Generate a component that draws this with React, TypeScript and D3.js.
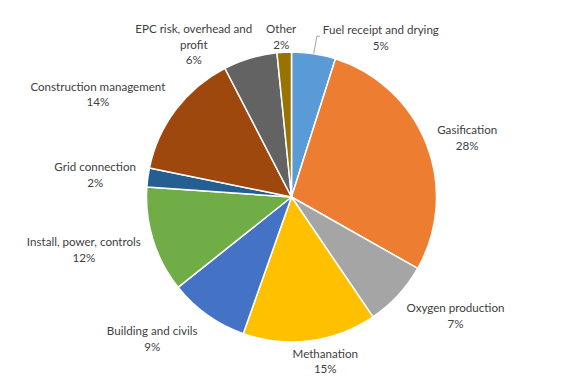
import React from "react";
import * as d3 from "d3";

const categories = [
  "Fuel receipt and drying",
  "Gasification",
  "Oxygen production",
  "Methanation",
  "Building and civils",
  "Install, power, controls",
  "Grid connection",
  "Construction management",
  "EPC risk, overhead and profit",
  "Other",
];
const shares = [4.9, 28.3, 7.3, 14.9, 8.9, 11.8, 2.1, 14.2, 6.0, 1.6];
const percentLabels = ["5%", "28%", "7%", "15%", "9%", "12%", "2%", "14%", "6%", "2%"];
const colors = [
  "#5B9BD5", "#ED7D31", "#A5A5A5", "#FFC000", "#4472C4",
  "#70AD47", "#255E91", "#9E480E", "#636363", "#997300",
];
// label text lines (wrapping as in the reference)
const labelLines = [
  ["Fuel receipt and drying"],
  ["Gasification"],
  ["Oxygen production"],
  ["Methanation"],
  ["Building and civils"],
  ["Install, power, controls"],
  ["Grid connection"],
  ["Construction management"],
  ["EPC risk, overhead and", "profit"],
  ["Other"],
];
// layout nudges for label placement (best-fit adjustments)
const labelNudge: [number, number][] = [
  [61, 23], [3.5, 7.7], [28, -7], [10, -20], [-32, -10],
  [-31, -3], [-13, 2], [-46, 8], [-45, 24], [-1, 24],
];

const W = 568, H = 392;
const cx = 291.5, cy = 197, R = 145, LR = 185, LH = 15.8;

export default function App() {
  const data = categories.map((c, i) => ({ c, v: shares[i], i }));
  const pie = d3.pie<any>().value((d) => d.v).sort(null).startAngle(0).endAngle(2 * Math.PI);
  const arcs = pie(data);
  const arc = d3.arc<any>().innerRadius(0).outerRadius(R);

  return (
    <svg width={W} height={H} style={{ position: "absolute", left: 0, top: 0, background: "#fff" }}
      fontFamily="Lato, 'Open Sans', sans-serif" fontSize={11.6}>
      <g transform={`translate(${cx},${cy})`}>
        {arcs.map((a, i) => (
          <path key={i} d={arc(a) as string} fill={colors[i]} stroke="#fff" strokeWidth={1.5} strokeLinejoin="round" />
        ))}
      </g>
      {arcs.map((a, i) => {
        const mid = (a.startAngle + a.endAngle) / 2;
        const lx = cx + LR * Math.sin(mid) + labelNudge[i][0];
        const lyc = cy - LR * Math.cos(mid) + labelNudge[i][1];
        const lines = [...labelLines[i], percentLabels[i]];
        const top = lyc - ((lines.length - 1) * LH) / 2;
        return (
          <text key={i} x={lx} y={top} textAnchor="middle" dominantBaseline="central" fill="#404040">
            {lines.map((t, k) => (
              <tspan key={k} x={lx} y={top + k * LH}>{t}</tspan>
            ))}
          </text>
        );
      })}
      {(() => {
        // leader line for the first slice
        const a = arcs[0];
        const mid = (a.startAngle + a.endAngle) / 2;
        const sx = cx + R * Math.sin(mid), sy = cy - R * Math.cos(mid);
        const lx = cx + LR * Math.sin(mid) + labelNudge[0][0];
        const lyc = cy - LR * Math.cos(mid) + labelNudge[0][1];
        const ex = lx - 61, ey = lyc - 1;
        return <polyline points={`${sx},${sy} ${ex - 3},${ey} ${ex},${ey}`} fill="none" stroke="#A6A6A6" strokeWidth={1} />;
      })()}
    </svg>
  );
}
